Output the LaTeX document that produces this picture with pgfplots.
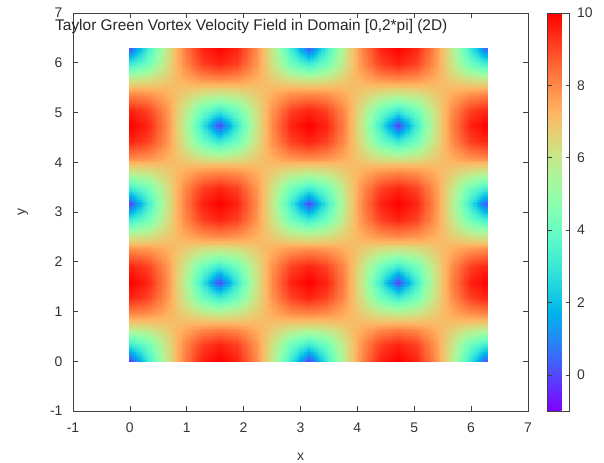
\documentclass[border=0pt]{standalone}
\usepackage{pgfplots}
\usepackage{pgfplotstable}
\usepgfplotslibrary{patchplots}
\pgfplotsset{compat=1.18}
\usepackage{fontspec}
\setmainfont{Liberation Sans}

\pgfplotsset{colormap={gprainbow}{
rgb(0pt)=(0.5,0,1) rgb(1pt)=(0.4,0.156,0.997) rgb(2pt)=(0.3,0.309,0.988) rgb(3pt)=(0.2,0.454,0.972)
rgb(4pt)=(0.1,0.588,0.951) rgb(5pt)=(0,0.707,0.924) rgb(6pt)=(0.1,0.809,0.891) rgb(7pt)=(0.2,0.891,0.853)
rgb(8pt)=(0.3,0.951,0.809) rgb(9pt)=(0.4,0.988,0.760) rgb(10pt)=(0.5,1,0.707) rgb(11pt)=(0.6,0.988,0.649)
rgb(12pt)=(0.7,0.951,0.588) rgb(13pt)=(0.8,0.891,0.522) rgb(14pt)=(0.9,0.809,0.454) rgb(15pt)=(1,0.707,0.383)
rgb(16pt)=(1,0.588,0.309) rgb(17pt)=(1,0.454,0.233) rgb(18pt)=(1,0.309,0.156) rgb(19pt)=(1,0.156,0.078)
rgb(20pt)=(1,0,0)}}

\pgfplotstableread[row sep=\\]{
x y v\\
0 0 0\\ 0.314 0 3.09\\ 0.628 0 5.88\\ 0.942 0 8.09\\ 1.257 0 9.51\\ 1.571 0 10\\ 1.885 0 9.51\\ 2.199 0 8.09\\ 2.513 0 5.88\\ 2.827 0 3.09\\ 3.142 0 0\\ 3.456 0 3.09\\ 3.770 0 5.88\\ 4.084 0 8.09\\ 4.398 0 9.51\\ 4.712 0 10\\ 5.027 0 9.51\\ 5.341 0 8.09\\ 5.655 0 5.88\\ 5.969 0 3.09\\ 6.283 0 0\\
0 0.314 3.09\\ 0.314 0.314 4.16\\ 0.628 0.314 6.12\\ 0.942 0.314 7.91\\ 1.257 0.314 9.10\\ 1.571 0.314 9.51\\ 1.885 0.314 9.10\\ 2.199 0.314 7.91\\ 2.513 0.314 6.12\\ 2.827 0.314 4.16\\ 3.142 0.314 3.09\\ 3.456 0.314 4.16\\ 3.770 0.314 6.12\\ 4.084 0.314 7.91\\ 4.398 0.314 9.10\\ 4.712 0.314 9.51\\ 5.027 0.314 9.10\\ 5.341 0.314 7.91\\ 5.655 0.314 6.12\\ 5.969 0.314 4.16\\ 6.283 0.314 3.09\\
0 0.628 5.88\\ 0.314 0.628 6.12\\ 0.628 0.628 6.73\\ 0.942 0.628 7.40\\ 1.257 0.628 7.91\\ 1.571 0.628 8.09\\ 1.885 0.628 7.91\\ 2.199 0.628 7.40\\ 2.513 0.628 6.73\\ 2.827 0.628 6.12\\ 3.142 0.628 5.88\\ 3.456 0.628 6.12\\ 3.770 0.628 6.73\\ 4.084 0.628 7.40\\ 4.398 0.628 7.91\\ 4.712 0.628 8.09\\ 5.027 0.628 7.91\\ 5.341 0.628 7.40\\ 5.655 0.628 6.73\\ 5.969 0.628 6.12\\ 6.283 0.628 5.88\\
0 0.942 8.09\\ 0.314 0.942 7.91\\ 0.628 0.942 7.40\\ 0.942 0.942 6.73\\ 1.257 0.942 6.12\\ 1.571 0.942 5.88\\ 1.885 0.942 6.12\\ 2.199 0.942 6.73\\ 2.513 0.942 7.40\\ 2.827 0.942 7.91\\ 3.142 0.942 8.09\\ 3.456 0.942 7.91\\ 3.770 0.942 7.40\\ 4.084 0.942 6.73\\ 4.398 0.942 6.12\\ 4.712 0.942 5.88\\ 5.027 0.942 6.12\\ 5.341 0.942 6.73\\ 5.655 0.942 7.40\\ 5.969 0.942 7.91\\ 6.283 0.942 8.09\\
0 1.257 9.51\\ 0.314 1.257 9.10\\ 0.628 1.257 7.91\\ 0.942 1.257 6.12\\ 1.257 1.257 4.16\\ 1.571 1.257 3.09\\ 1.885 1.257 4.16\\ 2.199 1.257 6.12\\ 2.513 1.257 7.91\\ 2.827 1.257 9.10\\ 3.142 1.257 9.51\\ 3.456 1.257 9.10\\ 3.770 1.257 7.91\\ 4.084 1.257 6.12\\ 4.398 1.257 4.16\\ 4.712 1.257 3.09\\ 5.027 1.257 4.16\\ 5.341 1.257 6.12\\ 5.655 1.257 7.91\\ 5.969 1.257 9.10\\ 6.283 1.257 9.51\\
0 1.571 10\\ 0.314 1.571 9.51\\ 0.628 1.571 8.09\\ 0.942 1.571 5.88\\ 1.257 1.571 3.09\\ 1.571 1.571 0\\ 1.885 1.571 3.09\\ 2.199 1.571 5.88\\ 2.513 1.571 8.09\\ 2.827 1.571 9.51\\ 3.142 1.571 10\\ 3.456 1.571 9.51\\ 3.770 1.571 8.09\\ 4.084 1.571 5.88\\ 4.398 1.571 3.09\\ 4.712 1.571 0\\ 5.027 1.571 3.09\\ 5.341 1.571 5.88\\ 5.655 1.571 8.09\\ 5.969 1.571 9.51\\ 6.283 1.571 10\\
0 1.885 9.51\\ 0.314 1.885 9.10\\ 0.628 1.885 7.91\\ 0.942 1.885 6.12\\ 1.257 1.885 4.16\\ 1.571 1.885 3.09\\ 1.885 1.885 4.16\\ 2.199 1.885 6.12\\ 2.513 1.885 7.91\\ 2.827 1.885 9.10\\ 3.142 1.885 9.51\\ 3.456 1.885 9.10\\ 3.770 1.885 7.91\\ 4.084 1.885 6.12\\ 4.398 1.885 4.16\\ 4.712 1.885 3.09\\ 5.027 1.885 4.16\\ 5.341 1.885 6.12\\ 5.655 1.885 7.91\\ 5.969 1.885 9.10\\ 6.283 1.885 9.51\\
0 2.199 8.09\\ 0.314 2.199 7.91\\ 0.628 2.199 7.40\\ 0.942 2.199 6.73\\ 1.257 2.199 6.12\\ 1.571 2.199 5.88\\ 1.885 2.199 6.12\\ 2.199 2.199 6.73\\ 2.513 2.199 7.40\\ 2.827 2.199 7.91\\ 3.142 2.199 8.09\\ 3.456 2.199 7.91\\ 3.770 2.199 7.40\\ 4.084 2.199 6.73\\ 4.398 2.199 6.12\\ 4.712 2.199 5.88\\ 5.027 2.199 6.12\\ 5.341 2.199 6.73\\ 5.655 2.199 7.40\\ 5.969 2.199 7.91\\ 6.283 2.199 8.09\\
0 2.513 5.88\\ 0.314 2.513 6.12\\ 0.628 2.513 6.73\\ 0.942 2.513 7.40\\ 1.257 2.513 7.91\\ 1.571 2.513 8.09\\ 1.885 2.513 7.91\\ 2.199 2.513 7.40\\ 2.513 2.513 6.73\\ 2.827 2.513 6.12\\ 3.142 2.513 5.88\\ 3.456 2.513 6.12\\ 3.770 2.513 6.73\\ 4.084 2.513 7.40\\ 4.398 2.513 7.91\\ 4.712 2.513 8.09\\ 5.027 2.513 7.91\\ 5.341 2.513 7.40\\ 5.655 2.513 6.73\\ 5.969 2.513 6.12\\ 6.283 2.513 5.88\\
0 2.827 3.09\\ 0.314 2.827 4.16\\ 0.628 2.827 6.12\\ 0.942 2.827 7.91\\ 1.257 2.827 9.10\\ 1.571 2.827 9.51\\ 1.885 2.827 9.10\\ 2.199 2.827 7.91\\ 2.513 2.827 6.12\\ 2.827 2.827 4.16\\ 3.142 2.827 3.09\\ 3.456 2.827 4.16\\ 3.770 2.827 6.12\\ 4.084 2.827 7.91\\ 4.398 2.827 9.10\\ 4.712 2.827 9.51\\ 5.027 2.827 9.10\\ 5.341 2.827 7.91\\ 5.655 2.827 6.12\\ 5.969 2.827 4.16\\ 6.283 2.827 3.09\\
0 3.142 0\\ 0.314 3.142 3.09\\ 0.628 3.142 5.88\\ 0.942 3.142 8.09\\ 1.257 3.142 9.51\\ 1.571 3.142 10\\ 1.885 3.142 9.51\\ 2.199 3.142 8.09\\ 2.513 3.142 5.88\\ 2.827 3.142 3.09\\ 3.142 3.142 0\\ 3.456 3.142 3.09\\ 3.770 3.142 5.88\\ 4.084 3.142 8.09\\ 4.398 3.142 9.51\\ 4.712 3.142 10\\ 5.027 3.142 9.51\\ 5.341 3.142 8.09\\ 5.655 3.142 5.88\\ 5.969 3.142 3.09\\ 6.283 3.142 0\\
0 3.456 3.09\\ 0.314 3.456 4.16\\ 0.628 3.456 6.12\\ 0.942 3.456 7.91\\ 1.257 3.456 9.10\\ 1.571 3.456 9.51\\ 1.885 3.456 9.10\\ 2.199 3.456 7.91\\ 2.513 3.456 6.12\\ 2.827 3.456 4.16\\ 3.142 3.456 3.09\\ 3.456 3.456 4.16\\ 3.770 3.456 6.12\\ 4.084 3.456 7.91\\ 4.398 3.456 9.10\\ 4.712 3.456 9.51\\ 5.027 3.456 9.10\\ 5.341 3.456 7.91\\ 5.655 3.456 6.12\\ 5.969 3.456 4.16\\ 6.283 3.456 3.09\\
0 3.770 5.88\\ 0.314 3.770 6.12\\ 0.628 3.770 6.73\\ 0.942 3.770 7.40\\ 1.257 3.770 7.91\\ 1.571 3.770 8.09\\ 1.885 3.770 7.91\\ 2.199 3.770 7.40\\ 2.513 3.770 6.73\\ 2.827 3.770 6.12\\ 3.142 3.770 5.88\\ 3.456 3.770 6.12\\ 3.770 3.770 6.73\\ 4.084 3.770 7.40\\ 4.398 3.770 7.91\\ 4.712 3.770 8.09\\ 5.027 3.770 7.91\\ 5.341 3.770 7.40\\ 5.655 3.770 6.73\\ 5.969 3.770 6.12\\ 6.283 3.770 5.88\\
0 4.084 8.09\\ 0.314 4.084 7.91\\ 0.628 4.084 7.40\\ 0.942 4.084 6.73\\ 1.257 4.084 6.12\\ 1.571 4.084 5.88\\ 1.885 4.084 6.12\\ 2.199 4.084 6.73\\ 2.513 4.084 7.40\\ 2.827 4.084 7.91\\ 3.142 4.084 8.09\\ 3.456 4.084 7.91\\ 3.770 4.084 7.40\\ 4.084 4.084 6.73\\ 4.398 4.084 6.12\\ 4.712 4.084 5.88\\ 5.027 4.084 6.12\\ 5.341 4.084 6.73\\ 5.655 4.084 7.40\\ 5.969 4.084 7.91\\ 6.283 4.084 8.09\\
0 4.398 9.51\\ 0.314 4.398 9.10\\ 0.628 4.398 7.91\\ 0.942 4.398 6.12\\ 1.257 4.398 4.16\\ 1.571 4.398 3.09\\ 1.885 4.398 4.16\\ 2.199 4.398 6.12\\ 2.513 4.398 7.91\\ 2.827 4.398 9.10\\ 3.142 4.398 9.51\\ 3.456 4.398 9.10\\ 3.770 4.398 7.91\\ 4.084 4.398 6.12\\ 4.398 4.398 4.16\\ 4.712 4.398 3.09\\ 5.027 4.398 4.16\\ 5.341 4.398 6.12\\ 5.655 4.398 7.91\\ 5.969 4.398 9.10\\ 6.283 4.398 9.51\\
0 4.712 10\\ 0.314 4.712 9.51\\ 0.628 4.712 8.09\\ 0.942 4.712 5.88\\ 1.257 4.712 3.09\\ 1.571 4.712 0\\ 1.885 4.712 3.09\\ 2.199 4.712 5.88\\ 2.513 4.712 8.09\\ 2.827 4.712 9.51\\ 3.142 4.712 10\\ 3.456 4.712 9.51\\ 3.770 4.712 8.09\\ 4.084 4.712 5.88\\ 4.398 4.712 3.09\\ 4.712 4.712 0\\ 5.027 4.712 3.09\\ 5.341 4.712 5.88\\ 5.655 4.712 8.09\\ 5.969 4.712 9.51\\ 6.283 4.712 10\\
0 5.027 9.51\\ 0.314 5.027 9.10\\ 0.628 5.027 7.91\\ 0.942 5.027 6.12\\ 1.257 5.027 4.16\\ 1.571 5.027 3.09\\ 1.885 5.027 4.16\\ 2.199 5.027 6.12\\ 2.513 5.027 7.91\\ 2.827 5.027 9.10\\ 3.142 5.027 9.51\\ 3.456 5.027 9.10\\ 3.770 5.027 7.91\\ 4.084 5.027 6.12\\ 4.398 5.027 4.16\\ 4.712 5.027 3.09\\ 5.027 5.027 4.16\\ 5.341 5.027 6.12\\ 5.655 5.027 7.91\\ 5.969 5.027 9.10\\ 6.283 5.027 9.51\\
0 5.341 8.09\\ 0.314 5.341 7.91\\ 0.628 5.341 7.40\\ 0.942 5.341 6.73\\ 1.257 5.341 6.12\\ 1.571 5.341 5.88\\ 1.885 5.341 6.12\\ 2.199 5.341 6.73\\ 2.513 5.341 7.40\\ 2.827 5.341 7.91\\ 3.142 5.341 8.09\\ 3.456 5.341 7.91\\ 3.770 5.341 7.40\\ 4.084 5.341 6.73\\ 4.398 5.341 6.12\\ 4.712 5.341 5.88\\ 5.027 5.341 6.12\\ 5.341 5.341 6.73\\ 5.655 5.341 7.40\\ 5.969 5.341 7.91\\ 6.283 5.341 8.09\\
0 5.655 5.88\\ 0.314 5.655 6.12\\ 0.628 5.655 6.73\\ 0.942 5.655 7.40\\ 1.257 5.655 7.91\\ 1.571 5.655 8.09\\ 1.885 5.655 7.91\\ 2.199 5.655 7.40\\ 2.513 5.655 6.73\\ 2.827 5.655 6.12\\ 3.142 5.655 5.88\\ 3.456 5.655 6.12\\ 3.770 5.655 6.73\\ 4.084 5.655 7.40\\ 4.398 5.655 7.91\\ 4.712 5.655 8.09\\ 5.027 5.655 7.91\\ 5.341 5.655 7.40\\ 5.655 5.655 6.73\\ 5.969 5.655 6.12\\ 6.283 5.655 5.88\\
0 5.969 3.09\\ 0.314 5.969 4.16\\ 0.628 5.969 6.12\\ 0.942 5.969 7.91\\ 1.257 5.969 9.10\\ 1.571 5.969 9.51\\ 1.885 5.969 9.10\\ 2.199 5.969 7.91\\ 2.513 5.969 6.12\\ 2.827 5.969 4.16\\ 3.142 5.969 3.09\\ 3.456 5.969 4.16\\ 3.770 5.969 6.12\\ 4.084 5.969 7.91\\ 4.398 5.969 9.10\\ 4.712 5.969 9.51\\ 5.027 5.969 9.10\\ 5.341 5.969 7.91\\ 5.655 5.969 6.12\\ 5.969 5.969 4.16\\ 6.283 5.969 3.09\\
0 6.283 0\\ 0.314 6.283 3.09\\ 0.628 6.283 5.88\\ 0.942 6.283 8.09\\ 1.257 6.283 9.51\\ 1.571 6.283 10\\ 1.885 6.283 9.51\\ 2.199 6.283 8.09\\ 2.513 6.283 5.88\\ 2.827 6.283 3.09\\ 3.142 6.283 0\\ 3.456 6.283 3.09\\ 3.770 6.283 5.88\\ 4.084 6.283 8.09\\ 4.398 6.283 9.51\\ 4.712 6.283 10\\ 5.027 6.283 9.51\\ 5.341 6.283 8.09\\ 5.655 6.283 5.88\\ 5.969 6.283 3.09\\ 6.283 6.283 0\\
}\tgv

\begin{document}
\begin{tikzpicture}
\begin{axis}[
  scale only axis, width=455bp, height=398bp,
  xmin=-1, xmax=7, ymin=-1, ymax=7,
  xtick={-1,0,...,7}, ytick={-1,0,...,7},
  tick align=inside, major tick length=5bp,
  axis line style={black!75, line width=0.6bp},
  every tick/.style={black!75, line width=0.6bp},
  tick label style={font=\fontsize{14}{16}\selectfont, text=black!80},
  xticklabel style={yshift=-8bp},
  yticklabel style={xshift=-7bp},
  /pgf/number format/assume math mode=true,
  xlabel={x}, ylabel={y},
  every axis x label/.style={at={([yshift=-50bp]rel axis cs:0.5,0)}, anchor=base},
  every axis y label/.style={at={([xshift=-50bp]rel axis cs:0,0.5)}, anchor=center, rotate=90},
  label style={font=\fontsize{14}{16}\selectfont, text=black!80},
  colormap name=gprainbow,
  point meta min=-1, point meta max=10,
  clip=false,
  colorbar,
  colorbar style={
    at={(parent axis.north east)}, anchor=north west, xshift=11bp,
    width=22bp, scale only axis, height=398bp,
    ytick={0,2,...,10}, ytick pos=both, yticklabel pos=right,
    tick align=inside, major tick length=4bp,
    axis line style={black!75, line width=0.6bp},
    every tick/.style={black!75, line width=0.6bp},
    tick label style={font=\fontsize{14}{16}\selectfont, text=black!80},
    yticklabel style={xshift=4bp},
    /pgf/number format/assume math mode=true,
  },
]
\addplot[surf, shader=interp, patch type=bilinear, mesh/cols=21, point meta=explicit]
  table[x=x, y=y, meta=v] {\tgv};
\coordinate (SW) at (rel axis cs:0,0);
\coordinate (NE) at (rel axis cs:1,1);
\node[anchor=base west, font=\fontsize{15.5}{18}\selectfont, text=black!85, inner sep=0pt]
  at ([xshift=-18bp, yshift=-18bp]rel axis cs:0,1) {Taylor Green Vortex Velocity Field in Domain [0,2*pi] (2D)};
\end{axis}
\pgfresetboundingbox
\path[use as bounding box] ([shift={(-73bp,-52bp)}]SW) rectangle ([shift={(76bp,13bp)}]NE);
\end{tikzpicture}
\end{document}
